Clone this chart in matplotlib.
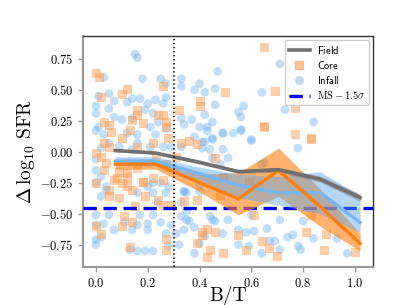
import matplotlib
matplotlib.use('Agg')
import matplotlib.pyplot as plt
import numpy as np

plt.rcParams['font.family'] = 'serif'
plt.rcParams['font.serif'] = ['cmr10']
plt.rcParams['mathtext.fontset'] = 'cm'
plt.rcParams['axes.formatter.use_mathtext'] = True
plt.rcParams['axes.unicode_minus'] = True

# binned medians
bt_bins = [0.075, 0.23, 0.39, 0.55, 0.705, 0.865, 1.02]

field_med = [0.01, -0.01, -0.08, -0.16, -0.145, -0.22, -0.37]
field_lo = [0.0, -0.02, -0.095, -0.175, -0.165, -0.245, -0.40]
field_hi = [0.02, 0.0, -0.065, -0.145, -0.125, -0.195, -0.34]

core_med = [-0.10, -0.10, -0.24, -0.38, -0.15, -0.44, -0.74]
core_lo = [-0.14, -0.14, -0.31, -0.51, -0.36, -0.60, -0.80]
core_hi = [-0.06, -0.06, -0.18, -0.17, 0.03, -0.30, -0.66]

infall_med = [-0.075, -0.075, -0.17, -0.27, -0.33, -0.33, -0.57]
infall_lo = [-0.11, -0.11, -0.22, -0.37, -0.43, -0.50, -0.65]
infall_hi = [-0.04, -0.04, -0.12, -0.18, -0.20, -0.16, -0.35]

# individual galaxies
infall_bt = [0.15, 0.16, 0.18, 0.03, 0.25, 0.27, 0.33, 0.33, 0.40, 0.05, 0.01, 0.07, 0.12, 0.14, 0.17,
             0.20, 0.23, 0.26, 0.27, 0.38, 0.42, 0.0, 0.0, 0.05, 0.07, 0.01, 0.0, 0.03, 0.10, 0.14,
             0.19, 0.22, 0.24, 0.21, 0.12, 0.16, 0.23, 0.27, 0.33, 0.37, 0.42, 0.40, 0.05, 0.09, 0.16,
             0.29, 0.33, 0.42, 0.02, 0.71, 0.47, 0.46, 0.64, 0.46, 0.57, 0.55, 0.56, 0.73, 0.84, 0.45,
             0.43, 0.43, 0.49, 0.53, 0.56, 0.45, 0.60, 0.78, 0.49, 0.44, 0.41, 0.0, 0.0, 0.0, 0.02,
             0.0, 0.07, 0.03, 0.11, 0.14, 0.13, 0.16, 0.19, 0.22, 0.16, 0.20, 0.20, 0.25, 0.29, 0.27,
             0.31, 0.28, 0.32, 0.34, 0.35, 0.36, 0.38, 0.38, 0.40, 0.42, 0.17, 0.22, 0.33, 0.05, 0.0,
             0.02, 0.04, 0.0, 0.0, 0.22, 0.22, 0.27, 0.35, 0.40, 0.33, 0.24, 0.16, 0.44, 0.46, 0.49,
             0.51, 0.55, 0.55, 0.59, 0.58, 0.61, 0.66, 0.64, 0.67, 0.69, 0.71, 0.71, 0.74, 0.76, 0.78,
             0.79, 0.80, 0.84, 0.93, 0.97, 0.45, 0.64, 0.34, 0.38, 0.41, 0.45, 0.49, 0.56, 0.60, 0.65,
             0.34, 0.35, 0.45, 0.60, 0.14, 0.21, 0.26, 0.27, 0.02, 0.04, 0.25, 0.20, 0.28, 0.40, 0.48,
             0.51, 0.34]
infall_dsfr = [0.79, 0.76, 0.59, 0.60, 0.59, 0.55, 0.59, 0.53, 0.55, 0.47, 0.45, 0.41, 0.40, 0.43, 0.43,
               0.39, 0.42, 0.39, 0.44, 0.50, 0.48, 0.37, 0.31, 0.35, 0.28, 0.20, 0.17, 0.14, 0.26, 0.27,
               0.34, 0.31, 0.24, 0.20, 0.15, 0.14, 0.14, 0.19, 0.27, 0.26, 0.30, 0.20, 0.07, 0.04, 0.07,
               0.04, 0.04, 0.08, 0.03, 0.71, 0.65, 0.51, 0.48, 0.38, 0.37, 0.32, 0.28, 0.34, 0.24, 0.24,
               0.20, 0.17, 0.15, 0.15, 0.17, 0.10, 0.09, 0.03, 0.02, 0.02, 0.08, -0.51, -0.59, -0.71, -0.69,
               -0.75, -0.63, -0.58, -0.57, -0.63, -0.79, -0.80, -0.80, -0.80, -0.59, -0.63, -0.58, -0.57, -0.59, -0.66,
               -0.66, -0.76, -0.75, -0.63, -0.55, -0.56, -0.61, -0.82, -0.74, -0.68, -0.51, -0.51, -0.52, -0.51, -0.25,
               -0.36, -0.31, -0.15, -0.06, -0.25, -0.33, -0.33, -0.33, -0.27, -0.41, -0.41, -0.33, -0.52, -0.56, -0.66,
               -0.55, -0.63, -0.75, -0.76, -0.65, -0.64, -0.62, -0.82, -0.72, -0.72, -0.79, -0.55, -0.69, -0.67, -0.76,
               -0.79, -0.56, -0.70, -0.70, -0.82, -0.05, -0.10, 0.22, 0.12, 0.03, 0.11, 0.15, 0.18, 0.10, -0.09,
               -0.32, -0.48, -0.55, -0.51, 0.02, 0.04, 0.04, -0.13, -0.20, -0.28, -0.25, -0.28, -0.28, -0.32, -0.10,
               -0.05, -0.32]

core_bt = [0.0, 0.01, 0.02, 0.10, 0.12, 0.26, 0.16, 0.16, 0.24, 0.26, 0.32, 0.40, 0.40, 0.03, 0.05,
           0.06, 0.14, 0.18, 0.13, 0.10, 0.27, 0.27, 0.28, 0.33, 0.36, 0.39, 0.22, 0.0, 0.05, 0.16,
           0.65, 0.50, 0.69, 0.77, 0.65, 0.77, 0.83, 0.0, 0.02, 0.10, 0.11, 0.14, 0.13, 0.27, 0.27,
           0.15, 0.19, 0.24, 0.26, 0.29, 0.34, 0.39, 0.39, 0.41, 0.43, 0.26, 0.18, 0.12, 0.08, 0.05,
           0.05, 0.09, 0.12, 0.0, 0.03, 0.02, 0.04, 0.14, 0.46, 0.49, 0.46, 0.43, 0.44, 0.49, 0.41,
           0.55, 0.58, 0.61, 0.64, 0.67, 0.70, 0.81, 0.88, 0.89, 1.0, 0.83, 0.65, 0.03, 0.09, 0.12,
           0.16, 0.18, 0.22, 0.23, 0.27, 0.10, 0.07, 0.31, 0.59, 0.48, 0.83]
core_dsfr = [0.64, 0.60, 0.44, 0.47, 0.51, 0.53, 0.34, 0.30, 0.30, 0.30, 0.34, 0.41, 0.37, 0.24, 0.22,
             0.16, 0.26, 0.23, 0.18, 0.11, 0.20, 0.24, 0.11, 0.07, 0.09, 0.06, 0.07, -0.01, 0.04, 0.04,
             0.85, 0.48, 0.49, 0.35, 0.20, 0.14, 0.11, -0.60, -0.66, -0.60, -0.52, -0.57, -0.77, -0.70, -0.79,
             -0.44, -0.36, -0.39, -0.43, -0.43, -0.40, -0.39, -0.74, -0.67, -0.85, -0.23, -0.24, -0.20, -0.21, -0.31,
             -0.36, -0.37, -0.28, -0.25, -0.15, -0.04, -0.09, -0.31, -0.05, -0.20, -0.65, -0.62, -0.79, -0.82, -0.65,
             -0.67, -0.79, -0.51, -0.72, -0.78, -0.84, -0.65, -0.79, -0.66, -0.81, -0.51, 0.21, 0.07, -0.16, -0.17,
             -0.13, -0.24, -0.21, -0.04, -0.10, -0.25, -0.23, -0.04, -0.24, -0.35, 0.10]

ms_cut = -0.45
bt_split = 0.3

fig = plt.figure(figsize=(4.15, 3.05), dpi=100)
ax = fig.add_axes([0.2, 0.1246, 0.699, 0.7574])

ax.scatter(infall_bt, infall_dsfr, s=40, marker='o', color='#6aaeef', alpha=0.4,
           edgecolors='none', zorder=1)
ax.scatter(core_bt, core_dsfr, s=38, marker='s', color='#ffa05a', alpha=0.5,
           edgecolors='#ffa05a', linewidths=0.6, zorder=2)

ax.axhline(ms_cut, color='blue', lw=2.4, ls=(0, (4, 2)), zorder=3)
ax.axvline(bt_split, color='black', lw=1.1, ls=':', zorder=7)

ax.fill_between(bt_bins, core_lo, core_hi, color='#ff7f0e', alpha=0.6, lw=0, zorder=4)
ax.fill_between(bt_bins, infall_lo, infall_hi, color='#5aa6ee', alpha=0.45, lw=0, zorder=4)
ax.fill_between(bt_bins, field_lo, field_hi, color='#777777', alpha=0.45, lw=0, zorder=4)

ax.plot(bt_bins, infall_med, color='#78b6f2', lw=2.4, zorder=5)
ax.plot(bt_bins, core_med, color='#ff7f0e', lw=2.4, zorder=5)
ax.plot(bt_bins, field_med, color='#707070', lw=2.6, zorder=6)

ax.set_xlim(-0.05, 1.07)
ax.set_ylim(-0.93, 0.935)
ax.set_xticks([0.0, 0.2, 0.4, 0.6, 0.8, 1.0])
ax.set_yticks([-0.75, -0.5, -0.25, 0.0, 0.25, 0.5, 0.75])
ax.tick_params(labelsize=9, color='#999999', length=3.5, width=1)

for side in ['left', 'bottom']:
    ax.spines[side].set_color('#999999')
    ax.spines[side].set_linewidth(1.5)
for side in ['top', 'right']:
    ax.spines[side].set_color('#333333')
    ax.spines[side].set_linewidth(1.0)

ax.set_xlabel('B/T', fontsize=14, labelpad=-2.5)
ax.set_ylabel(r'$\Delta\,\log_{10}\,\mathrm{SFR}$', fontsize=14, labelpad=2)

handles = [
    plt.Line2D([], [], color='#707070', lw=2.6),
    plt.Line2D([], [], marker='s', ls='none', color='#ffa05a', alpha=0.6, markersize=6),
    plt.Line2D([], [], marker='o', ls='none', color='#6aaeef', alpha=0.45, markersize=6.5, markeredgewidth=0),
    plt.Line2D([], [], color='blue', lw=2.4, ls=(0, (4, 2))),
]
labels = [r'$\mathsf{Field}$', r'$\mathsf{Core}$', r'$\mathsf{Infall}$', r'$\mathrm{MS} - 1.5\sigma$']
ax.legend(handles, labels, loc='upper right', fontsize=7.5, framealpha=1, handlelength=2.0,
          handletextpad=0.7, borderpad=0.35, labelspacing=0.3, borderaxespad=0.4)

fig.savefig('out.png', dpi=100)
